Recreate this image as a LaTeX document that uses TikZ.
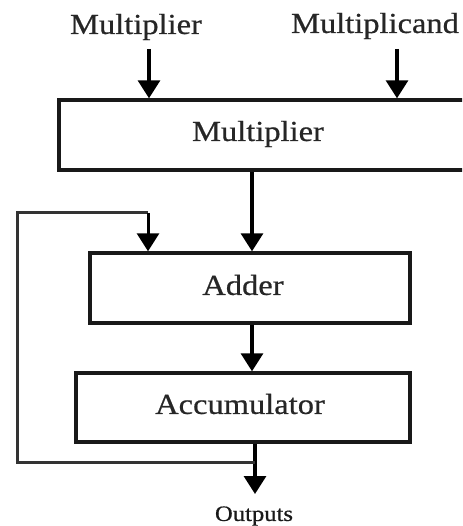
\documentclass[tikz,border=0pt]{standalone}
\usepackage{fontspec}
\setmainfont{Liberation Serif}[FakeStretch=1.12,FakeBold=0.6]
\usetikzlibrary{arrows.meta}
\begin{document}
\begin{tikzpicture}[x=1pt,y=-1pt,
  blk/.style={draw=black!90,line width=3.4pt,inner sep=0pt},
  lbl/.style={inner sep=0pt,font=\fontsize{29}{31}\selectfont,text=black!85},
  arr/.style={line width=3.2pt,draw=black,-{Triangle[width=22pt,length=18pt]}},
  fb/.style={line width=3pt,draw=black!80}]
\useasboundingbox[fill=white] (0,0) rectangle (462,526);
\clip (0,0) rectangle (462,526);
% top labels
\node[lbl] (tin1) at (136,27) {Multiplier};
\node[lbl] (tin2) at (375,26) {Multiplicand};
% boxes
\node[blk,minimum width=418pt,minimum height=70pt] (mul) at (268,135) {};
\node[lbl] (mult) at (258,134) {Multiplier};
\node[blk,minimum width=320pt,minimum height=70pt] (add) at (250,288) {};
\node[lbl] (addt) at (243,285) {Adder};
\node[blk,minimum width=334pt,minimum height=69pt] (acc) at (243,407.5) {};
\node[lbl] (acct) at (240,404) {Accumulator};
\node[inner sep=0pt,font=\fontsize{22}{24}\selectfont,text=black!90] (out) at (254,516) {Outputs};
% coordinates
\coordinate (a1s) at (149,49);
\coordinate (a2s) at (397,49);
\coordinate (fbl) at (17,213);
\coordinate (fbr) at (148,213);
\coordinate (fbb) at (17,462);
\coordinate (fbj) at (255,462);
\coordinate (outtip) at (255,494);
% arrows
\draw[arr] (a1s) -- (a1s |- mul.north);
\draw[arr] (a2s) -- (a2s |- mul.north);
\draw[arr] (mul.south -| 252,0) -- (add.north -| 252,0);
\draw[arr] (add.south -| 252,0) -- (acc.north -| 252,0);
\draw[arr] (acc.south -| 255,0) -- (outtip);
\draw[fb] (fbj) -- (fbb) -- (fbl) -- (fbr);
\draw[arr,line width=3pt] (fbr) -- (fbr |- add.north);
\end{tikzpicture}
\end{document}
